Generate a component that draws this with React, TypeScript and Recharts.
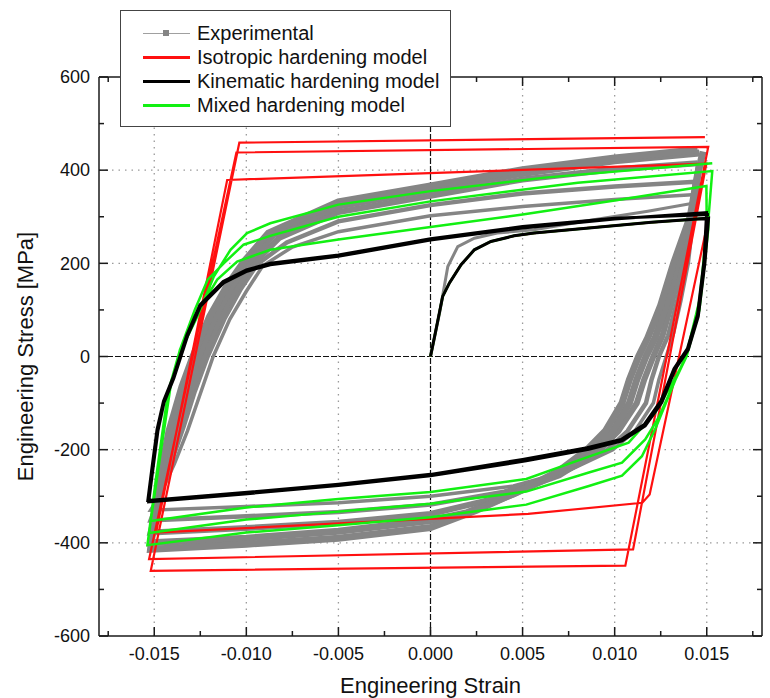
import { LineChart, Line, XAxis, YAxis, ReferenceLine, Legend } from "recharts";

type Pt = [number, number]; // [strain, stress MPa]

const FONT = "'Liberation Sans', Arial, sans-serif";
const GRAY = "#858585";
const RED = "#ff1010";
const BLACK = "#000000";
const GREEN = "#12f012";
const AXIS = "#1a1a1a";
const GRID = "#9a9a9a";

// ticks
const X_MAJOR = [-0.015, -0.01, -0.005, 0, 0.005, 0.01, 0.015];
const X_MINOR = [-0.0175, -0.0125, -0.0075, -0.0025, 0.0025, 0.0075, 0.0125, 0.0175];
const Y_MAJOR = [-600, -400, -200, 0, 200, 400, 600];
const Y_MINOR = [-500, -300, -100, 100, 300, 500];

const LEGEND_LABELS = [
  "Experimental",
  "Isotropic hardening model",
  "Kinematic hardening model",
  "Mixed hardening model",
];

// experimental: initial loading + growing cycles
const expInitial: Pt[] = [
  [0, 0], [0.0005, 95], [0.00094, 193], [0.00148, 236], [0.00238, 254], [0.00362, 265],
  [0.00562, 272], [0.0086, 292], [0.0118, 312], [0.0144, 330],
];
const expLoopA: Pt[] = [
  [0.0144, 330], [0.0142, 270], [0.014, 200], [0.0136, 120], [0.0132, 50], [0.0128, 0],
  [0.0124, -50], [0.0121, -100], [0.0111, -160], [0.0099, -200], [0.0075, -245], [0.0045, -278],
  [0, -300], [-0.005, -314], [-0.01, -322], [-0.0152, -330],
  [-0.0146, -290], [-0.0139, -230], [-0.0132, -160], [-0.0125, -80], [-0.0118, 0], [-0.0109, 80],
  [-0.01, 140], [-0.0091, 195], [-0.0075, 235], [-0.005, 268], [0, 302], [0.005, 322],
  [0.01, 337], [0.0142, 347],
];
const expLoopB: Pt[] = [
  [0.0143, 347], [0.0141, 280], [0.0138, 200], [0.0134, 120], [0.0129, 45], [0.0124, 0],
  [0.012, -50], [0.0117, -100], [0.0107, -160], [0.0096, -200], [0.0072, -250], [0.004, -290],
  [0, -318], [-0.005, -334], [-0.01, -343], [-0.0152, -352],
  [-0.0147, -300], [-0.0141, -230], [-0.0134, -150], [-0.0128, -75], [-0.0121, 0], [-0.0112, 80],
  [-0.0103, 145], [-0.0094, 198], [-0.0078, 245], [-0.005, 290], [0, 325], [0.005, 350],
  [0.01, 365], [0.0144, 375],
];
const expLoopC: Pt[] = [
  [0.0144, 375], [0.0141, 290], [0.0136, 200], [0.0131, 115], [0.0126, 45], [0.0121, 0],
  [0.0116, -50], [0.0112, -100], [0.0102, -160], [0.0092, -200], [0.007, -255], [0.0035, -305],
  [0, -338], [-0.005, -357], [-0.01, -368], [-0.0152, -378],
  [-0.0148, -315], [-0.0143, -240], [-0.0136, -150], [-0.013, -75], [-0.0123, 0], [-0.0114, 85],
  [-0.0105, 150], [-0.0096, 200], [-0.0082, 255], [-0.005, 310], [0, 345], [0.005, 380],
  [0.01, 402], [0.0145, 415],
];
const expLoopD: Pt[] = [
  [0.0146, 415], [0.0142, 300], [0.0134, 200], [0.0128, 110], [0.0122, 40], [0.0117, 0],
  [0.0112, -50], [0.0108, -100], [0.0099, -160], [0.0089, -200], [0.007, -250], [0.0045, -295],
  [0.002, -335], [0, -352], [-0.005, -375], [-0.01, -390], [-0.0152, -400],
  [-0.0149, -330], [-0.0145, -250], [-0.0139, -155], [-0.0132, -70], [-0.0126, 0], [-0.0117, 85],
  [-0.0108, 150], [-0.0099, 203], [-0.0085, 262], [-0.005, 323], [0, 358], [0.005, 393],
  [0.01, 420], [0.0146, 437],
];
const expLoopE: Pt[] = [
  [0.0148, 440], [0.0145, 390], [0.0141, 300], [0.0132, 200], [0.0125, 110], [0.0118, 40],
  [0.0113, 0], [0.0108, -50], [0.0104, -100], [0.0095, -160], [0.0085, -200], [0.007, -245],
  [0.0052, -282], [0.0025, -330], [0, -367], [-0.005, -390], [-0.01, -403], [-0.0152, -414],
  [-0.015, -345], [-0.0147, -260], [-0.0142, -160], [-0.0135, -65], [-0.0129, 0], [-0.012, 85],
  [-0.011, 155], [-0.0101, 205], [-0.0088, 265], [-0.005, 332], [0, 366], [0.005, 401],
  [0.01, 426], [0.0145, 444],
];

// models share the monotonic first loading
const modelInitial: Pt[] = [
  [0, 0], [0.0003, 58], [0.00066, 129], [0.00103, 158], [0.00166, 197], [0.00238, 229],
  [0.00328, 247], [0.00454, 259], [0.00562, 265], [0.0086, 276], [0.012, 288], [0.0151, 297],
];

const isotropicCycles: Pt[] = [
  [0.0119, -296], [0.0115, -314], [0.0053, -338], [-0.0149, -378], [-0.01104, 379],
  [0.01498, 414], [0.011, -414], [-0.01528, -435], [-0.01054, 438], [0.01508, 450],
  [0.01058, -449], [-0.01519, -460], [-0.01038, 459], [0.0149, 471],
];

const kinematicCycles: Pt[] = [
  [0.0149, 200], [0.01454, 86], [0.014, 15], [0.01328, -28], [0.01256, -99], [0.01166, -149],
  [0.0104, -181], [0.0086, -199], [0.0052, -224], [0, -256], [-0.005, -277], [-0.0101, -295],
  [-0.0153, -312],
  [-0.0151, -250], [-0.0148, -160], [-0.01447, -99], [-0.01393, -46], [-0.0132, 43], [-0.01249, 108],
  [-0.01123, 158], [-0.00996, 183], [-0.0087, 197], [-0.005, 215], [0, 250], [0.005, 276],
  [0.01, 295], [0.01499, 309],
  [0.01485, 205], [0.0145, 90], [0.01395, 17], [0.01322, -26], [0.0125, -96], [0.0116, -146],
  [0.01035, -178], [0.0085, -196], [0.005, -221], [0, -253], [-0.005, -274], [-0.0101, -292],
  [-0.01535, -309],
  [-0.01515, -247], [-0.01485, -157], [-0.0145, -96], [-0.01396, -43], [-0.01323, 46], [-0.01252, 111],
  [-0.01126, 161], [-0.01, 186], [-0.0087, 200], [-0.005, 218], [0, 253], [0.005, 279],
  [0.01, 297], [0.01512, 305],
];

const mixedCycles: Pt[] = [
  [0.01508, 272], [0.0146, 100], [0.0139, 0], [0.0133, -45], [0.0122, -121], [0.01076, -185],
  [0.0086, -215], [0.0052, -263], [0, -291], [-0.005, -306], [-0.01, -324], [-0.01519, -353],
  [-0.0147, -220], [-0.0141, -60], [-0.0136, 15], [-0.0128, 85], [-0.01158, 165], [-0.0105, 204],
  [-0.0087, 229], [-0.005, 251], [0, 278], [0.005, 305], [0.01, 335], [0.01498, 366],
  [0.015, 280], [0.0146, 110], [0.0139, 0], [0.0133, -50], [0.0124, -130], [0.01166, -178],
  [0.0104, -228], [0.0086, -249], [0.0052, -290], [0, -316], [-0.005, -333], [-0.01, -350],
  [-0.01528, -379],
  [-0.0148, -240], [-0.0142, -70], [-0.0136, 15], [-0.0128, 100], [-0.0121, 165], [-0.01123, 200],
  [-0.01015, 240], [-0.0087, 259], [-0.005, 300], [0, 333], [0.008, 373], [0.0153, 398],
  [0.0151, 300], [0.0146, 120], [0.0139, 5], [0.0133, -50], [0.0122, -156], [0.01148, -214],
  [0.0104, -256], [0.0086, -278], [0.0052, -318], [0, -345], [-0.005, -362], [-0.01, -378],
  [-0.01537, -405],
  [-0.0149, -260], [-0.0143, -90], [-0.0136, 10], [-0.01266, 86], [-0.01176, 172],
  [-0.01086, 229], [-0.00996, 265], [-0.0087, 286], [-0.005, 326], [0, 355], [0.0062, 384],
  [0.0153, 415],
];

const rows = (pts: Pt[]) => pts.map(([e, s]) => ({ e, s }));

const xTicks = [...X_MAJOR, ...X_MINOR].sort((a, b) => a - b);
const yTicks = [...Y_MAJOR, ...Y_MINOR].sort((a, b) => a - b);
const isMajor = (list: number[], v: number) => list.some((m) => Math.abs(m - v) < 1e-9);

function BottomTick({ x, y, payload }: any) {
  const major = isMajor(X_MAJOR, payload.value);
  return (
    <g>
      <line x1={x} x2={x} y1={y} y2={y - (major ? 9 : 5)} stroke={AXIS} strokeWidth={1.5} />
      {major && (
        <text x={x} y={y + 24} textAnchor="middle" fontSize={18} fontFamily={FONT} fill="#111">
          {payload.value.toFixed(3)}
        </text>
      )}
    </g>
  );
}

function TopTick({ x, y, payload }: any) {
  const major = isMajor(X_MAJOR, payload.value);
  return <line x1={x} x2={x} y1={y} y2={y + (major ? 9 : 5)} stroke={AXIS} strokeWidth={1.5} />;
}

function LeftTick({ x, y, payload }: any) {
  const major = isMajor(Y_MAJOR, payload.value);
  return (
    <g>
      <line x1={x} x2={x + (major ? 9 : 5)} y1={y} y2={y} stroke={AXIS} strokeWidth={1.5} />
      {major && (
        <text x={x - 9} y={y} dy="0.35em" textAnchor="end" fontSize={18} fontFamily={FONT} fill="#111">
          {payload.value}
        </text>
      )}
    </g>
  );
}

function RightTick({ x, y, payload }: any) {
  const major = isMajor(Y_MAJOR, payload.value);
  return <line x1={x} x2={x - (major ? 9 : 5)} y1={y} y2={y} stroke={AXIS} strokeWidth={1.5} />;
}

function LegendBox() {
  const colors = [GRAY, RED, BLACK, GREEN];
  return (
    <div
      style={{
        width: 331,
        height: 117,
        boxSizing: "border-box",
        border: "1px solid #444",
        background: "#fff",
        paddingTop: 10,
        fontFamily: FONT,
        fontSize: 20,
        color: "#111",
      }}
    >
      {LEGEND_LABELS.map((label, i) => (
        <div key={label} style={{ display: "flex", alignItems: "center", height: 24 }}>
          <div style={{ position: "relative", width: 47, height: 8, marginLeft: 22, marginRight: 7 }}>
            <div
              style={{
                position: "absolute",
                left: 0,
                right: 0,
                top: i === 0 ? 3.5 : 2.5,
                height: i === 0 ? 1 : 3,
                background: i === 0 ? "#a0a0a0" : colors[i],
              }}
            />
            {i === 0 && (
              <div style={{ position: "absolute", left: 20, top: 1, width: 6, height: 6, background: GRAY }} />
            )}
          </div>
          <span style={{ lineHeight: "24px", whiteSpace: "nowrap" }}>{label}</span>
        </div>
      ))}
    </div>
  );
}

const ax = { xAxisId: "b", yAxisId: "l" };

export default function App() {
  return (
    <div style={{ position: "absolute", left: 0, top: 0, width: 770, height: 698, background: "#fff" }}>
      <LineChart width={770} height={698} margin={{ top: 76, right: 7, bottom: 0, left: 0 }}>
        <XAxis
          xAxisId="b"
          dataKey="e"
          type="number"
          domain={[-0.018, 0.018]}
          allowDataOverflow
          ticks={xTicks}
          interval={0}
          height={62}
          tickSize={0}
          tickMargin={0}
          tickLine={false}
          tick={BottomTick}
          axisLine={{ stroke: AXIS, strokeWidth: 1.5 }}
          label={{
            value: "Engineering Strain",
            position: "insideBottom",
            offset: 5,
            style: { fontSize: 22, fontFamily: FONT, fill: "#111" },
          }}
        />
        <XAxis
          xAxisId="t"
          orientation="top"
          dataKey="e"
          type="number"
          domain={[-0.018, 0.018]}
          allowDataOverflow
          ticks={xTicks}
          interval={0}
          height={1}
          tickSize={0}
          tickMargin={0}
          tickLine={false}
          tick={TopTick}
          axisLine={{ stroke: AXIS, strokeWidth: 1.5 }}
        />
        <YAxis
          yAxisId="l"
          type="number"
          domain={[-600, 600]}
          allowDataOverflow
          ticks={yTicks}
          interval={0}
          width={99}
          tickSize={0}
          tickMargin={0}
          tickLine={false}
          tick={LeftTick}
          axisLine={{ stroke: AXIS, strokeWidth: 1.5 }}
          label={{
            value: "Engineering Stress [MPa]",
            angle: -90,
            position: "insideLeft",
            offset: 25,
            style: { fontSize: 22, fontFamily: FONT, fill: "#111", textAnchor: "middle" },
          }}
        />
        <YAxis
          yAxisId="r"
          orientation="right"
          type="number"
          domain={[-600, 600]}
          allowDataOverflow
          ticks={yTicks}
          interval={0}
          width={1}
          tickSize={0}
          tickMargin={0}
          tickLine={false}
          tick={RightTick}
          axisLine={{ stroke: AXIS, strokeWidth: 1.5 }}
        />

        {X_MAJOR.filter((v) => v !== 0).map((v) => (
          <ReferenceLine key={`gx${v}`} {...ax} x={v} stroke={GRID} strokeWidth={1.3} strokeDasharray="1.5 5" />
        ))}
        {Y_MAJOR.filter((v) => v !== 0 && Math.abs(v) !== 600).map((v) => (
          <ReferenceLine key={`gy${v}`} {...ax} y={v} stroke={GRID} strokeWidth={1.3} strokeDasharray="1.5 5" />
        ))}
        <ReferenceLine {...ax} x={0} stroke="#111" strokeWidth={1.2} strokeDasharray="6 2" />
        <ReferenceLine {...ax} y={0} stroke="#111" strokeWidth={1.2} strokeDasharray="6 2" />

        <Line {...ax} data={rows(expInitial)} dataKey="s" stroke={GRAY} strokeWidth={3} dot={false} isAnimationActive={false} />
        <Line {...ax} data={rows(expLoopA)} dataKey="s" stroke={GRAY} strokeWidth={3.5} dot={false} isAnimationActive={false} />
        <Line {...ax} data={rows(expLoopB)} dataKey="s" stroke={GRAY} strokeWidth={4.5} dot={false} isAnimationActive={false} />
        <Line {...ax} data={rows(expLoopC)} dataKey="s" stroke={GRAY} strokeWidth={6} dot={false} isAnimationActive={false} />
        <Line {...ax} data={rows(expLoopD)} dataKey="s" stroke={GRAY} strokeWidth={7} dot={false} isAnimationActive={false} />
        <Line {...ax} data={rows(expLoopE)} dataKey="s" stroke={GRAY} strokeWidth={7} dot={false} isAnimationActive={false} />

        <Line {...ax} data={rows([...modelInitial, ...isotropicCycles])} dataKey="s" stroke={RED} strokeWidth={2.2} dot={false} isAnimationActive={false} />
        <Line {...ax} data={rows([...modelInitial, ...mixedCycles])} dataKey="s" stroke={GREEN} strokeWidth={2.5} dot={false} isAnimationActive={false} />
        <Line {...ax} data={rows([...modelInitial, ...kinematicCycles])} dataKey="s" stroke={BLACK} strokeWidth={3} dot={false} isAnimationActive={false} />

        <Legend
          layout="vertical"
          align="center"
          verticalAlign="middle"
          content={() => <LegendBox />}
          wrapperStyle={{ left: 120, top: 10, width: 331, height: 117 }}
        />
      </LineChart>
    </div>
  );
}
